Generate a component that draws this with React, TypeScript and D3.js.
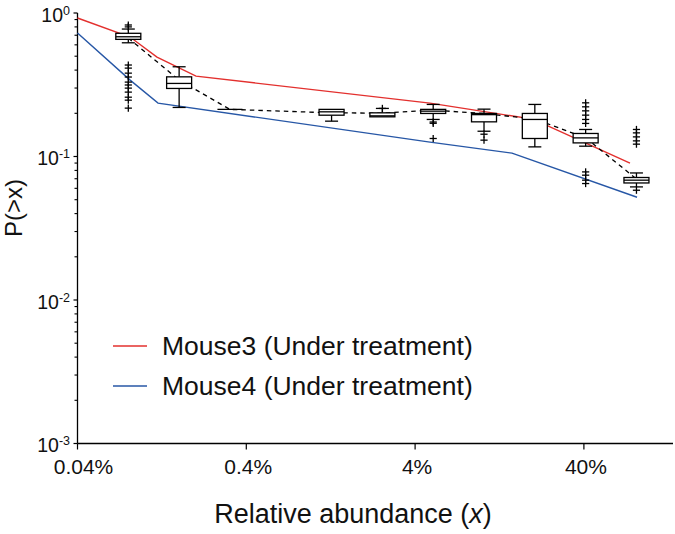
import React from "react";
import * as d3 from "d3";

// ---- data ----
const binX = [0.08, 0.16, 0.32, 1.28, 2.56, 5.12, 10.24, 20.48, 40.96, 81.92];
const boxQ1 = [0.655, 0.298, 0.213, 0.194, 0.189, 0.1995, 0.1744, 0.1335, 0.1244, 0.0654];
const boxQ3 = [0.722, 0.359, 0.213, 0.213, 0.2015, 0.213, 0.1995, 0.1995, 0.1447, 0.0714];
const boxMedian = [0.683, 0.323, 0.213, 0.2048, 0.192, 0.207, 0.1957, 0.1812, 0.1348, 0.0684];
const whiskerLow = [0.62, 0.2197, 0.213, 0.1763, 0.189, 0.1812, 0.15, 0.1167, 0.118, 0.0614];
const whiskerHigh = [0.773, 0.422, 0.213, 0.213, 0.2163, 0.2306, 0.2138, 0.2306, 0.1543, 0.0768];
const boxMean = [0.669, 0.3406, 0.213, 0.2015, 0.2005, 0.2104, 0.1993, 0.1823, 0.135, 0.0697];
const outliers: number[][] = [
  [0.825, 0.8, 0.434, 0.413, 0.381, 0.358, 0.33, 0.315, 0.2996, 0.281, 0.259, 0.247, 0.2173],
  [],
  [],
  [],
  [0.2163],
  [0.1739, 0.1704, 0.1335],
  [0.143, 0.13],
  [],
  [0.2366, 0.2219, 0.208, 0.1942, 0.1812, 0.17, 0.0781, 0.0741, 0.0684, 0.0648],
  [0.1543, 0.1461, 0.137, 0.1285, 0.1219, 0.0582],
];

const mouse3X = [0.04, 0.0819, 0.1183, 0.2014, 4.9, 19.97, 75.0];
const mouse3Y = [0.923, 0.68, 0.493, 0.363, 0.2355, 0.182, 0.0898];
const mouse4X = [0.04, 0.082, 0.12, 4.9, 15.0, 82.6];
const mouse4Y = [0.725, 0.3406, 0.2355, 0.1259, 0.1055, 0.052];

const xTicks = [0.04, 0.4, 4, 40];
const xTickLabels = ["0.04%", "0.4%", "4%", "40%"];
const yMajor = [1, 0.1, 0.01, 0.001];
const yExponents = ["0", "-1", "-2", "-3"];
const legendLabels = ["Mouse3 (Under treatment)", "Mouse4 (Under treatment)"];

// ---- layout ----
const W = 675;
const H = 534;
const X0 = 77.5;
const X1 = 673;
const Y0 = 443.5;
const Y1 = 13;
const RED = "#e3302e";
const BLUE = "#2757a6";
const FONT = "Arial, 'Liberation Sans', Helvetica, sans-serif";

export default function App() {
  const x = d3.scaleLog().domain([0.04, 0.04 * Math.pow(10, (X1 - X0) / 168.8)]).range([X0, X1]);
  const y = d3.scaleLog().domain([0.001, 1]).range([Y0, Y1]);

  const line = d3
    .line<[number, number]>()
    .x((d) => x(d[0]))
    .y((d) => y(d[1]));

  const redPath = line(mouse3X.map((v, i) => [v, mouse3Y[i]] as [number, number])) || "";
  const bluePath = line(mouse4X.map((v, i) => [v, mouse4Y[i]] as [number, number])) || "";
  const meanPath = line(binX.map((v, i) => [v, boxMean[i]] as [number, number])) || "";

  const yMinor = y.ticks().filter((t) => !yMajor.some((m) => Math.abs(m - t) / m < 1e-6));

  const boxW = 25;
  const capW = 13;
  const plus = 3.6;
  const sw = 1.3;

  return (
    <div style={{ position: "absolute", left: 0, top: 0 }}>
      <svg width={W} height={H} style={{ display: "block", background: "#fff" }} fontFamily={FONT}>
        {/* axes */}
        <line x1={X0} x2={X0} y1={Y1} y2={Y0} stroke="#000" strokeWidth={1.3} />
        <line x1={X0} x2={X1} y1={Y0} y2={Y0} stroke="#000" strokeWidth={1.3} />
        {yMajor.map((t, i) => (
          <g key={"ym" + i}>
            <line x1={X0 - 4} x2={X0} y1={y(t)} y2={y(t)} stroke="#000" strokeWidth={1.2} />
            <text x={70} y={y(t) + 8.5} textAnchor="end" fontSize={19.5} fill="#111">
              <tspan>10</tspan>
              <tspan dy={-7} fontSize={12.5}>
                {yExponents[i]}
              </tspan>
            </text>
          </g>
        ))}
        {yMinor.map((t, i) => (
          <line key={"yn" + i} x1={X0 - 3} x2={X0} y1={y(t)} y2={y(t)} stroke="#000" strokeWidth={1.1} />
        ))}
        {xTicks.map((t, i) => (
          <g key={"xt" + i}>
            <line x1={x(t)} x2={x(t)} y1={Y0} y2={Y0 + 6} stroke="#000" strokeWidth={1.2} />
            <text x={x(t) + (i === 0 ? 6 : 2)} y={474} textAnchor="middle" fontSize={21} fill="#111">
              {xTickLabels[i]}
            </text>
          </g>
        ))}
        <text x={353} y={523} textAnchor="middle" fontSize={27} fill="#111">
          Relative abundance (<tspan fontStyle="italic">x</tspan>)
        </text>
        <text transform={`translate(22,208) rotate(-90)`} textAnchor="middle" fontSize={24} fill="#111">
          P(&gt;x)
        </text>

        {/* model lines */}
        <path d={redPath} fill="none" stroke={RED} strokeWidth={1.4} />
        <path d={bluePath} fill="none" stroke={BLUE} strokeWidth={1.4} />

        {/* dashed mean line */}
        <path d={meanPath} fill="none" stroke="#000" strokeWidth={1.3} strokeDasharray="4.5,4" />

        {/* box plots */}
        {binX.map((bx, i) => {
          const cx = x(bx);
          const top = y(boxQ3[i]);
          const bot = y(boxQ1[i]);
          const hi = y(whiskerHigh[i]);
          const lo = y(whiskerLow[i]);
          return (
            <g key={"b" + i} stroke="#000" strokeWidth={sw} fill="none">
              {hi < top - 0.5 && (
                <>
                  <line x1={cx} x2={cx} y1={hi} y2={top} />
                  <line x1={cx - capW / 2} x2={cx + capW / 2} y1={hi} y2={hi} />
                </>
              )}
              {lo > bot + 0.5 && (
                <>
                  <line x1={cx} x2={cx} y1={bot} y2={lo} />
                  <line x1={cx - capW / 2} x2={cx + capW / 2} y1={lo} y2={lo} />
                </>
              )}
              <rect x={cx - boxW / 2} y={top} width={boxW} height={Math.max(bot - top, 0)} fill="#fff" />
              <line x1={cx - boxW / 2} x2={cx + boxW / 2} y1={y(boxMedian[i])} y2={y(boxMedian[i])} />
              {outliers[i].map((o, j) => (
                <g key={"o" + j}>
                  <line x1={cx - plus} x2={cx + plus} y1={y(o)} y2={y(o)} />
                  <line x1={cx} x2={cx} y1={y(o) - plus} y2={y(o) + plus} />
                </g>
              ))}
            </g>
          );
        })}

        {/* legend */}
        {legendLabels.map((lab, i) => {
          const ly = 346 + i * 40;
          return (
            <g key={"lg" + i}>
              <line x1={113} x2={147} y1={ly} y2={ly} stroke={i === 0 ? RED : BLUE} strokeWidth={1.4} />
              <text x={162} y={ly + 8.5} fontSize={26.5} fill="#111">
                {lab}
              </text>
            </g>
          );
        })}
      </svg>
    </div>
  );
}
